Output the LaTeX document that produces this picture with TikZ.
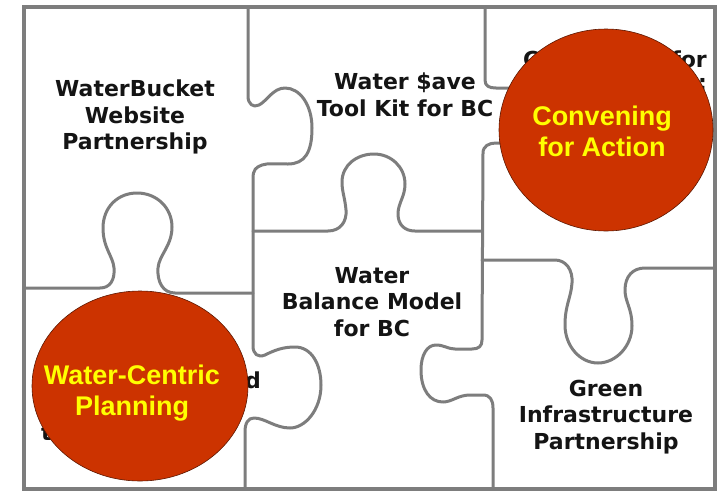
\documentclass[tikz,border=0pt]{standalone}
\usepackage{fontspec}
\setmainfont{DejaVu Sans}
\newfontfamily\circfont{Liberation Sans}
\usetikzlibrary{shapes.geometric}
\definecolor{edgegray}{RGB}{125,125,125}
\definecolor{discred}{RGB}{204,51,0}
\definecolor{discyellow}{RGB}{255,255,0}
\definecolor{inkblack}{RGB}{20,20,20}
\begin{document}
\begin{tikzpicture}[x=1pt,y=-1pt,
  piece/.style={draw=edgegray, line width=3pt, line join=round, line cap=round},
  outerframe/.style={draw=edgegray, line width=3.2pt},
  piecetext/.style={align=center, inner sep=0pt, text=inkblack, font=\bfseries\fontsize{22}{26.5}\selectfont},
  frag/.style={inner sep=0pt, text=inkblack, font=\bfseries\fontsize{22}{26.5}\selectfont},
  disc/.style={ellipse, draw=black!55!discred, line width=0.6pt, fill=discred, inner sep=0pt},
  disctext/.style={align=center, inner sep=0pt, text=discyellow, font=\circfont\bfseries\fontsize{27}{31}\selectfont}
]
\fill[white] (0,0) rectangle (718,496);
\useasboundingbox (0,0) rectangle (718,496);

% outer frame
\draw[outerframe] (24,7) rectangle (715,489);

% boundary WaterBucket | Water $ave, continuing down with tab into Water Balance
\draw[piece] (248,7) -- (248,96)
  .. controls (248,104) and (253,108) .. (259,105)
  .. controls (267,101) and (273,88) .. (285,88)
  .. controls (300,88) and (312,105) .. (312,128)
  .. controls (312,152) and (305,164) .. (288,164)
  .. controls (275,164) and (268,163) .. (262,165)
  .. controls (256,167) and (253,170) .. (253,178)
  -- (253,346)
  .. controls (253,354) and (258,358) .. (265,355)
  .. controls (275,350) and (283,347) .. (295,347)
  .. controls (312,347) and (321,365) .. (321,385)
  .. controls (321,410) and (305,428) .. (290,428)
  .. controls (275,428) and (265,418) .. (254,418)
  .. controls (248,418) and (245,423) .. (245,432)
  -- (245,489);

% bottom of WaterBucket with tab up
\draw[piece] (24,288) -- (100,288)
  .. controls (110,288) and (115,280) .. (114,268)
  .. controls (113,256) and (103,248) .. (103,228)
  .. controls (103,207) and (118,193) .. (137,193)
  .. controls (157,193) and (172,208) .. (172,227)
  .. controls (172,246) and (159,255) .. (158,268)
  .. controls (157,282) and (163,293) .. (175,293)
  -- (253,293);

% bottom of Water $ave with tab up
\draw[piece] (253,231) -- (328,231)
  .. controls (340,231) and (347,222) .. (346,210)
  .. controls (345,198) and (342,192) .. (342,182)
  .. controls (342,165) and (357,154) .. (374,154)
  .. controls (391,154) and (405,167) .. (405,184)
  .. controls (405,197) and (398,203) .. (398,214)
  .. controls (398,225) and (405,231) .. (415,231)
  -- (482,231);

% right boundary of Water $ave / Water Balance
\draw[piece] (485,7) -- (485,80)
  .. controls (485,86) and (489,88) .. (496,88)
  -- (515,88)
  .. controls (525,88) and (530,80) .. (545,80)
  .. controls (562,80) and (572,98) .. (572,115)
  .. controls (572,133) and (562,150) .. (545,150)
  .. controls (530,150) and (525,143) .. (510,143)
  -- (496,143)
  .. controls (489,143) and (483,146) .. (483,153)
  -- (482,340)
  .. controls (482,346) and (479,349) .. (472,349)
  -- (455,349)
  .. controls (448,349) and (444,345) .. (436,345)
  .. controls (427,345) and (421,355) .. (421,370)
  .. controls (421,390) and (430,402) .. (443,402)
  .. controls (452,402) and (458,395) .. (470,395)
  -- (483,395)
  .. controls (490,395) and (493,400) .. (493,408)
  -- (493,489);

% top of Green Infrastructure with socket
\draw[piece] (482,260) -- (555,260)
  .. controls (566,260) and (573,270) .. (572,283)
  .. controls (571,298) and (565,305) .. (565,325)
  .. controls (565,346) and (580,363) .. (598,363)
  .. controls (616,363) and (632,346) .. (632,326)
  .. controls (632,308) and (625,302) .. (625,290)
  .. controls (625,276) and (633,268) .. (645,268)
  -- (715,268);

% piece texts
\node[piecetext] (bucket) at (135,117) {WaterBucket\\Website\\Partnership};
\node[piecetext] (wsave) at (405,95) {Water \$ave\\Tool Kit for BC};
\node[piecetext] (balance) at (372,302) {Water\\Balance Model\\for BC};
\node[piecetext] (green) at (606,417) {Green\\Infrastructure\\Partnership};

% text fragments partly hidden by the discs
\node[frag, anchor=base west] (fragC) at (523,67) {C};
\node[frag, anchor=base east] (fragfor) at (707,67) {for};
\node[frag, anchor=base east] (fragcolon) at (707,90) {:};
\node[frag, anchor=base east] (fragd) at (261,388) {d};
\node[frag, anchor=base west] (fragt) at (41,440) {t};

% discs
\node[disc, minimum width=214pt, minimum height=202pt] (convdisc) at (606,130) {};
\node[disctext] (convtext) at (602,131) {Convening\\for Action};
\node[disc, minimum width=216pt, minimum height=190pt] (wcdisc) at (140,386) {};
\node[disctext] (wctext) at (132,393) {Water-Centric\\Planning};
\end{tikzpicture}
\end{document}
